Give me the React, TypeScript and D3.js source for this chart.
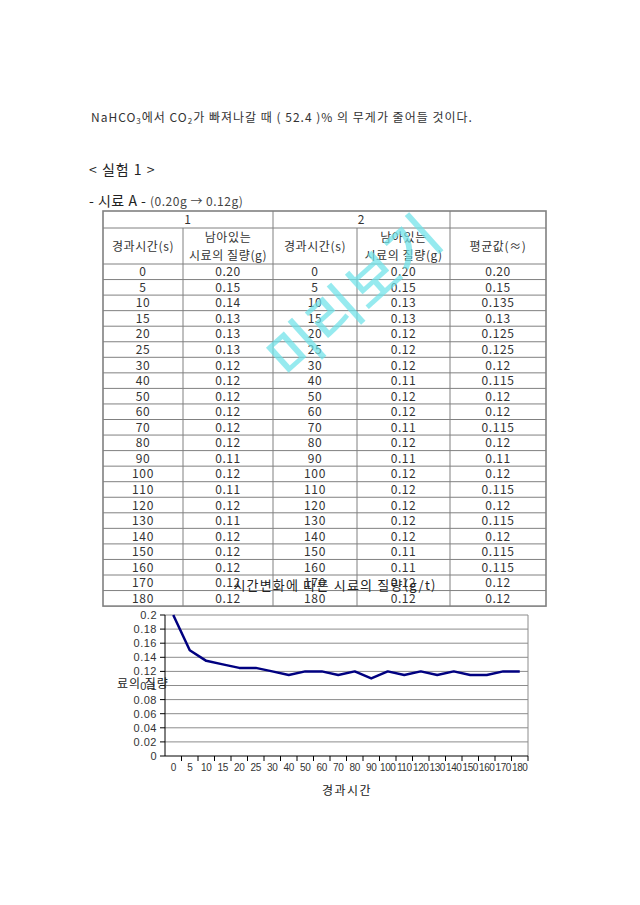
import * as d3 from "d3";

const times = [0, 5, 10, 15, 20, 25, 30, 40, 50, 60, 70, 80, 90, 100, 110, 120, 130, 140, 150, 160, 170, 180];
const run1 = [0.2, 0.15, 0.14, 0.13, 0.13, 0.13, 0.12, 0.12, 0.12, 0.12, 0.12, 0.12, 0.11, 0.12, 0.11, 0.12, 0.11, 0.12, 0.12, 0.12, 0.12, 0.12];
const run2 = [0.2, 0.15, 0.13, 0.13, 0.12, 0.12, 0.12, 0.11, 0.12, 0.12, 0.11, 0.12, 0.11, 0.12, 0.12, 0.12, 0.12, 0.12, 0.11, 0.11, 0.12, 0.12];
const avg = [0.2, 0.15, 0.135, 0.13, 0.125, 0.125, 0.12, 0.115, 0.12, 0.12, 0.115, 0.12, 0.11, 0.12, 0.115, 0.12, 0.115, 0.12, 0.115, 0.115, 0.12, 0.12];
const yTicks = [0, 0.02, 0.04, 0.06, 0.08, 0.1, 0.12, 0.14, 0.16, 0.18, 0.2];

const KR = "'Noto Sans CJK KR', sans-serif";
const TXT = "#333";

// table geometry
const colX = [103, 183, 273, 357, 450, 546];
const tTop = 211, hdr1 = 228, hdr2 = 264, rowH = 15.55;

// chart geometry
const cx0 = 165, cx1 = 528, cy0 = 615, cy1 = 756;

const fmt2 = (v: number) => v.toFixed(2);
const fmtAvg = (v: number) => v.toFixed(3).replace(/0$/, "");

export default function App() {
  const x = d3.scaleBand<string>(times.map(String), [cx0, cx1]).padding(0);
  const y = d3.scaleLinear([0, 0.2], [cy1, cy0]);
  const line = d3.line<number>((_, i) => x(String(times[i]))! + x.bandwidth() / 2, (d) => y(d));
  const tBottom = hdr2 + rowH * times.length;
  const cc = (i: number) => (colX[i] + colX[i + 1]) / 2;

  return (
    <svg width={640} height={905} style={{ position: "absolute", left: 0, top: 0, background: "#fff" }}>
      <text x={91} y={122} fontFamily={KR} fontSize={12} fill={TXT} letterSpacing={1}>
        NaHCO<tspan fontSize={8} dy={2}>3</tspan><tspan dy={-2}>에서 CO</tspan><tspan fontSize={8} dy={2}>2</tspan><tspan dy={-2}>가 빠져나갈 때 ( 52.4 )% 의 무게가 줄어들 것이다.</tspan>
      </text>
      <text x={89} y={175} fontFamily={KR} fontSize={14} fill="#222" letterSpacing={1}>{"< 실험 1 >"}</text>
      <text x={89} y={206} fontFamily={KR} fontSize={14} fill="#222" letterSpacing={0.5}>
        - 시료 A - <tspan fontSize={12} fill="#444">(0.20g → 0.12g)</tspan>
      </text>

      {/* table */}
      <g stroke="#808080" fill="none">
        <rect x={colX[0]} y={tTop} width={colX[5] - colX[0]} height={tBottom - tTop} strokeWidth={1.6} />
        <line x1={colX[0]} x2={colX[5]} y1={hdr1} y2={hdr1} />
        <line x1={colX[0]} x2={colX[5]} y1={hdr2} y2={hdr2} />
        {times.slice(1).map((_, i) => (
          <line key={i} x1={colX[0]} x2={colX[5]} y1={hdr2 + rowH * (i + 1)} y2={hdr2 + rowH * (i + 1)} />
        ))}
        <line x1={colX[1]} x2={colX[1]} y1={hdr1} y2={tBottom} />
        <line x1={colX[2]} x2={colX[2]} y1={tTop} y2={tBottom} />
        <line x1={colX[3]} x2={colX[3]} y1={hdr1} y2={tBottom} />
        <line x1={colX[4]} x2={colX[4]} y1={tTop} y2={tBottom} />
      </g>
      <g fontFamily={KR} fontSize={12} fill={TXT} textAnchor="middle" letterSpacing={0.6}>
        <text x={(colX[0] + colX[2]) / 2} y={224}>1</text>
        <text x={(colX[2] + colX[4]) / 2} y={224}>2</text>
        <text x={cc(0)} y={251}>경과시간(s)</text>
        <text x={cc(1)} y={242}>남아있는</text>
        <text x={cc(1)} y={260}>시료의 질량(g)</text>
        <text x={cc(2)} y={251}>경과시간(s)</text>
        <text x={cc(3)} y={242}>남아있는</text>
        <text x={cc(3)} y={260}>시료의 질량(g)</text>
        <text x={cc(4)} y={251}>평균값(≈)</text>
        {times.map((t, i) => {
          const yy = hdr2 + rowH * i + rowH / 2 + 4.5;
          return (
            <g key={t}>
              <text x={cc(0)} y={yy}>{t}</text>
              <text x={cc(1)} y={yy}>{fmt2(run1[i])}</text>
              <text x={cc(2)} y={yy}>{t}</text>
              <text x={cc(3)} y={yy}>{fmt2(run2[i])}</text>
              <text x={cc(4)} y={yy}>{fmtAvg(avg[i])}</text>
            </g>
          );
        })}
      </g>

      {/* chart */}
      <g stroke="#8c8c8c" strokeWidth={1}>
        {yTicks.slice(1).map((v) => (
          <line key={v} x1={cx0} x2={cx1} y1={y(v)} y2={y(v)} />
        ))}
        <line x1={cx1} x2={cx1} y1={cy0} y2={cy1} />
      </g>
      <g stroke="#000" strokeWidth={1}>
        <line x1={cx0} x2={cx0} y1={cy0} y2={cy1} />
        <line x1={cx0} x2={cx1} y1={cy1} y2={cy1} />
        {yTicks.map((v) => (
          <line key={v} x1={cx0 - 5} x2={cx0} y1={y(v)} y2={y(v)} />
        ))}
        {times.map((t) => (
          <line key={t} x1={x(String(t))! + x.bandwidth()} x2={x(String(t))! + x.bandwidth()} y1={cy1} y2={cy1 + 5} />
        ))}
      </g>
      <g fontFamily="'Liberation Sans', Arial, sans-serif" fontSize={11} fill="#333" textAnchor="end" letterSpacing={0.5}>
        {yTicks.map((v) => (
          <text key={v} x={157} y={y(v) + 4}>{d3.format("~g")(v)}</text>
        ))}
      </g>
      <g fontFamily="'Liberation Sans Narrow', 'Liberation Sans', Arial, sans-serif" fontSize={10} fill="#333" textAnchor="middle" letterSpacing={-0.4}>
        {times.map((t) => (
          <text key={t} x={x(String(t))! + x.bandwidth() / 2} y={771}>{t}</text>
        ))}
      </g>
      <path d={line(avg)!} fill="none" stroke="#000080" strokeWidth={2.5} strokeLinejoin="round" />
      <text x={335} y={590} fontFamily={KR} fontSize={13} fill="#222" textAnchor="middle" letterSpacing={1.2}>시간변화에 따른 시료의 질량(g/t)</text>
      <text x={117} y={688} fontFamily={KR} fontSize={12} fill="#222" letterSpacing={1}>료의 질량</text>
      <text x={347} y={795} fontFamily={KR} fontSize={12} fill="#222" textAnchor="middle" letterSpacing={1.5}>경과시간</text>

      {/* watermark */}
      <text x={368} y={312} transform="rotate(-42 368 312)" fontFamily={KR} fontSize={56} fontWeight={500} fill="#6fe3e9" opacity={0.72} textAnchor="middle" letterSpacing={1}>미리보기</text>
    </svg>
  );
}
